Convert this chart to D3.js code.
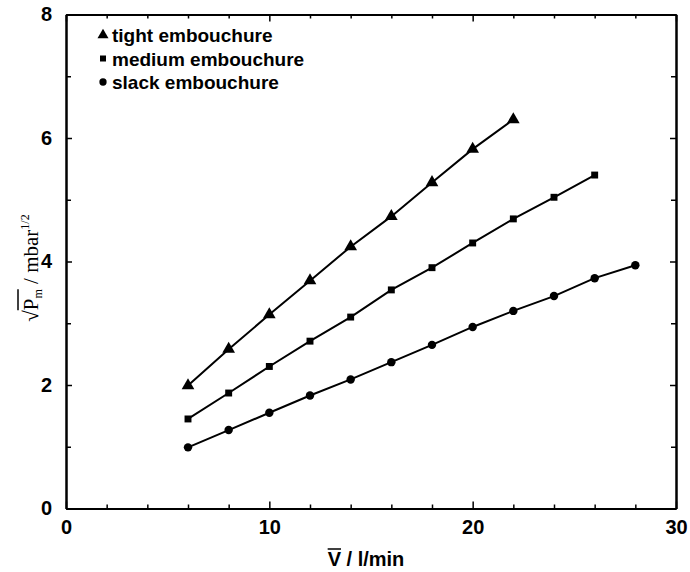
<!DOCTYPE html>
<html>
<head>
<meta charset="utf-8">
<script src="https://cdn.jsdelivr.net/npm/d3@7"></script>
<style>
  body { margin: 0; background: #fff; }
  svg { display: block; }
</style>
</head>
<body>
<svg id="chart" width="690" height="572"></svg>
<script>
// Mean flow (l/min) and square root of mouth pressure (mbar^1/2) per embouchure
const tightFlow   = [6, 8, 10, 12, 14, 16, 18, 20, 22];
const tightRootP  = [1.99, 2.58, 3.14, 3.69, 4.24, 4.73, 5.28, 5.82, 6.30];
const mediumFlow  = [6, 8, 10, 12, 14, 16, 18, 20, 22, 24, 26];
const mediumRootP = [1.45, 1.87, 2.30, 2.71, 3.10, 3.54, 3.90, 4.30, 4.69, 5.04, 5.40];
const slackFlow   = [6, 8, 10, 12, 14, 16, 18, 20, 22, 24, 26, 28];
const slackRootP  = [0.99, 1.27, 1.55, 1.83, 2.09, 2.37, 2.65, 2.94, 3.20, 3.44, 3.73, 3.94];

const seriesNames = ["tight embouchure", "medium embouchure", "slack embouchure"];
const xMajorTicks = [0, 10, 20, 30];
const xMinorTicks = [2, 4, 6, 8, 12, 14, 16, 18, 22, 24, 26, 28];
const yMajorTicks = [0, 2, 4, 6, 8];
const yMinorTicks = [1, 3, 5, 7];

const svg = d3.select("#chart");
const sans = "'Liberation Sans', Arial, Helvetica, sans-serif";
const serif = "'Liberation Serif', 'Times New Roman', serif";

const x = d3.scaleLinear().domain([0, 30]).range([66, 676]);
const y = d3.scaleLinear().domain([0, 8]).range([508.5, 14.5]);

const series = [
  { name: seriesNames[0], flow: tightFlow,  p: tightRootP,  symbol: d3.symbolTriangle, size: 70 },
  { name: seriesNames[1], flow: mediumFlow, p: mediumRootP, symbol: d3.symbolSquare,   size: 48 },
  { name: seriesNames[2], flow: slackFlow,  p: slackRootP,  symbol: d3.symbolCircle,   size: 56 }
];

// Frame with inward ticks on all four sides
function styleAxis(g, labelled) {
  g.select(".domain").attr("stroke", "#000").attr("stroke-width", 2);
  g.selectAll(".tick line").attr("stroke", "#000").attr("stroke-width", 1.5);
  g.selectAll(".tick text")
    .attr("fill", "#000")
    .style("font-family", sans)
    .style("font-weight", "bold")
    .style("font-size", "20px");
  if (!labelled) g.selectAll(".tick text").remove();
}

function addAxis(axis, transform, labelled) {
  const g = svg.append("g").attr("transform", transform).call(axis);
  styleAxis(g, labelled);
  return g;
}

const fmt = d3.format("d");
addAxis(d3.axisBottom(x).tickValues(xMajorTicks).tickSizeInner(-7).tickSizeOuter(0).tickPadding(11).tickFormat(fmt),
        `translate(0,${y(0)})`, true);
addAxis(d3.axisBottom(x).tickValues(xMinorTicks).tickSizeInner(-4).tickSizeOuter(0).tickFormat(""),
        `translate(0,${y(0)})`, false);
addAxis(d3.axisTop(x).tickValues(xMajorTicks).tickSizeInner(-7).tickSizeOuter(0).tickFormat(""),
        `translate(0,${y(8)})`, false);
addAxis(d3.axisTop(x).tickValues(xMinorTicks).tickSizeInner(-4).tickSizeOuter(0).tickFormat(""),
        `translate(0,${y(8)})`, false);
addAxis(d3.axisLeft(y).tickValues(yMajorTicks).tickSizeInner(-6).tickSizeOuter(0).tickPadding(14).tickFormat(fmt),
        `translate(${x(0)},0)`, true);
addAxis(d3.axisLeft(y).tickValues(yMinorTicks).tickSizeInner(-5).tickSizeOuter(0).tickFormat(""),
        `translate(${x(0)},0)`, false);
addAxis(d3.axisRight(y).tickValues(yMajorTicks).tickSizeInner(-6).tickSizeOuter(0).tickFormat(""),
        `translate(${x(30)},0)`, false);
addAxis(d3.axisRight(y).tickValues(yMinorTicks).tickSizeInner(-5).tickSizeOuter(0).tickFormat(""),
        `translate(${x(30)},0)`, false);

// Data lines and markers
const line = d3.line().x(d => x(d[0])).y(d => y(d[1]));
series.forEach(s => {
  const pts = s.flow.map((f, i) => [f, s.p[i]]);
  svg.append("path").datum(pts)
    .attr("d", line)
    .attr("fill", "none")
    .attr("stroke", "#000")
    .attr("stroke-width", 2);
  svg.append("g").selectAll("path").data(pts).join("path")
    .attr("transform", d => `translate(${x(d[0])},${y(d[1])})`)
    .attr("d", d3.symbol().type(s.symbol).size(s.size))
    .attr("fill", "#000");
});

// Legend
const legend = svg.append("g");
series.forEach((s, i) => {
  const cy = 35 + i * 23.5;
  legend.append("path")
    .attr("transform", `translate(103,${cy})`)
    .attr("d", d3.symbol().type(s.symbol).size(s.size * 0.75))
    .attr("fill", "#000");
  legend.append("text")
    .attr("x", 112).attr("y", cy + 7)
    .style("font-family", sans).style("font-size", "19px").style("font-weight", "bold")
    .attr("fill", "#000")
    .text(s.name);
});

// Overline helper: draws a bar over characters [from, to) of a text element
function overline(textSel, from, to, lift, parent) {
  const node = textSel.node();
  const a = node.getStartPositionOfChar(from);
  const b = node.getEndPositionOfChar(to - 1);
  const ext = node.getExtentOfChar(from);
  parent.append("line")
    .attr("x1", a.x).attr("x2", b.x)
    .attr("y1", ext.y - lift).attr("y2", ext.y - lift)
    .attr("stroke", "#000").attr("stroke-width", 1.5);
}

// X axis title: V̄ / l/min
const xTitleG = svg.append("g");
const xTitle = xTitleG.append("text")
  .attr("x", 366).attr("y", 566)
  .attr("text-anchor", "middle")
  .style("font-family", sans).style("font-size", "20px").style("font-weight", "bold")
  .attr("fill", "#000")
  .text("V / l/min");
overline(xTitle, 0, 1, -1, xTitleG);

// Y axis title: √P̄m / mbar^1/2
const yTitleG = svg.append("g").attr("transform", "translate(38,268) rotate(-90)");
const yTitle = yTitleG.append("text")
  .attr("text-anchor", "middle")
  .style("font-family", serif).style("font-size", "21px")
  .attr("fill", "#000");
yTitle.append("tspan").text("√P");
yTitle.append("tspan").attr("dy", 4).style("font-size", "12px").text("m");
yTitle.append("tspan").attr("dy", -4).text(" / mbar");
yTitle.append("tspan").attr("dy", -9).style("font-size", "12px").text("1/2");
overline(yTitle, 1, 3, 1, yTitleG);
</script>
</body>
</html>
